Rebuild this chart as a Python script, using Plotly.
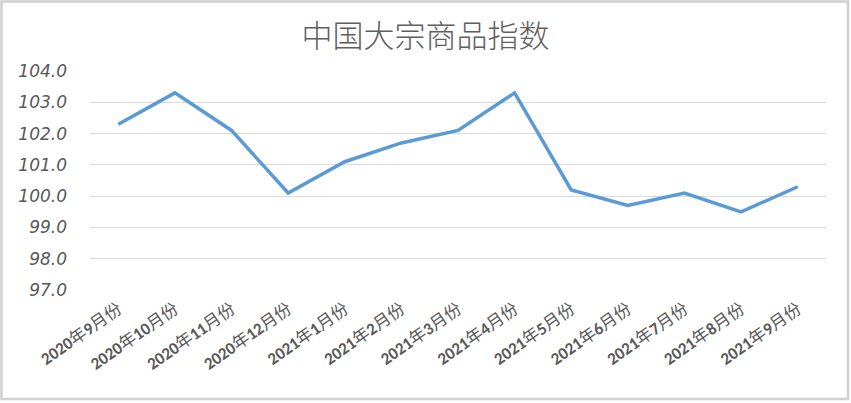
import re
import plotly.graph_objects as go

categories = ["2020年9月份", "2020年10月份", "2020年11月份", "2020年12月份",
              "2021年1月份", "2021年2月份", "2021年3月份", "2021年4月份",
              "2021年5月份", "2021年6月份", "2021年7月份", "2021年8月份",
              "2021年9月份"]
values = [102.3, 103.3, 102.1, 100.1, 101.1, 101.7, 102.1, 103.3,
          100.2, 99.7, 100.1, 99.5, 100.3]
y_ticks = [97, 98, 99, 100, 101, 102, 103, 104]
y_tick_labels = ["97.0", "98.0", "99.0", "100.0", "101.0", "102.0", "103.0", "104.0"]

W, H = 851, 403
L, R, T, B = 90, 25, 71, 113
pw, ph = W - L - R, H - T - B

# digits bold, Chinese characters regular (as in the reference)
x_tick_text = [re.sub(r"(\d+)", r"<b>\1</b>", c) for c in categories]

fig = go.Figure()
fig.add_trace(go.Scatter(
    x=categories, y=values, mode="lines",
    line=dict(color="#5b9bd5", width=3.5),
    hoverinfo="x+y",
))

def px_x(p):
    return (p - L) / pw

def px_y(p):
    return (H - B - p) / ph

fig.add_shape(type="rect", xref="paper", yref="paper",
              x0=px_x(1.5), x1=px_x(W - 3), y0=px_y(H - 4), y1=px_y(1.5),
              line=dict(color="#d0d0d0", width=2.5), layer="below")

fig.update_layout(
    width=W, height=H,
    margin=dict(l=L, r=R, t=T, b=B, autoexpand=False),
    paper_bgcolor="white", plot_bgcolor="white",
    showlegend=False,
    title=dict(text="中国大宗商品指数", x=0.5, xanchor="center",
               y=1 - 36 / H, yanchor="middle", automargin=False,
               font=dict(family="Noto Sans CJK SC", size=31, color="#5f5f5f", weight=300)),
    xaxis=dict(
        type="category", range=[-0.5, len(categories) - 0.5],
        tickvals=categories, ticktext=x_tick_text,
        tickangle=-35, showgrid=False, zeroline=False, automargin=False,
        showline=False, ticks="", ticklabelstandoff=5,
        tickfont=dict(family="Carlito, Liberation Sans, Noto Sans CJK SC",
                      size=17, color="#595959"),
    ),
    yaxis=dict(
        range=[97, 104], tickvals=y_ticks, ticktext=y_tick_labels,
        showgrid=True, gridcolor="#d9d9d9", gridwidth=1, zeroline=False,
        showline=False, ticks="", ticklabelstandoff=22, automargin=False,
        tickfont=dict(family="DejaVu Sans", size=17, color="#595959", style="italic"),
    ),
)

fig.write_html("out.html", config={"displayModeBar": False},
               post_script="document.body.style.margin='0';document.body.style.overflow='hidden';")
